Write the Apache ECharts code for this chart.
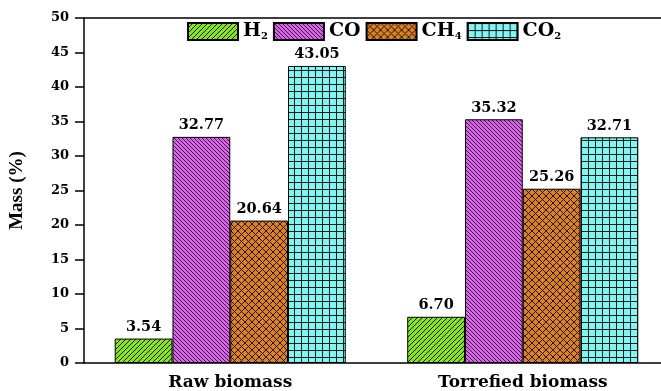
<!DOCTYPE html>
<html>
<head>
<meta charset="utf-8">
<script src="https://cdn.jsdelivr.net/npm/echarts@6/dist/echarts.min.js"></script>
<style>
  html, body { margin: 0; padding: 0; background: #fff; overflow: hidden; }
  #chart { width: 669px; height: 391px; }
</style>
</head>
<body>
<div id="chart"></div>
<script>
// Gas composition of the product stream, mass %
const categories = ['Raw biomass', 'Torrefied biomass'];
const h2Values  = [3.54, 6.70];
const coValues  = [32.77, 35.32];
const ch4Values = [20.64, 25.26];
const co2Values = [43.05, 32.71];
const yTicks = [0, 5, 10, 15, 20, 25, 30, 35, 40, 45, 50];

const WIDE = '"DejaVu Serif", "Liberation Serif", serif';
const SERIF = '"Liberation Serif", "Times New Roman", serif';

// Hatch fills drawn on small tiles
function tile(w, h, bg, lw, draw) {
  const c = document.createElement('canvas');
  c.width = w; c.height = h;
  const g = c.getContext('2d');
  g.fillStyle = bg;
  g.fillRect(0, 0, w, h);
  g.strokeStyle = '#1a1a1a';
  g.lineWidth = lw;
  draw(g, w, h);
  return { image: c, repeat: 'repeat' };
}
function fwd(g, s) { // "/" lines
  g.beginPath();
  g.moveTo(0, s); g.lineTo(s, 0);
  g.moveTo(-1, 1); g.lineTo(1, -1);
  g.moveTo(s - 1, s + 1); g.lineTo(s + 1, s - 1);
  g.stroke();
}
function back(g, s) { // "\" lines
  g.beginPath();
  g.moveTo(0, 0); g.lineTo(s, s);
  g.moveTo(s - 1, -1); g.lineTo(s + 1, 1);
  g.moveTo(-1, s - 1); g.lineTo(1, s + 1);
  g.stroke();
}
const fillH2  = tile(5, 5, '#86e41f', 1, (g, w) => fwd(g, w));
const fillCO  = tile(4, 4, '#de62ee', 0.9, (g, w) => back(g, w));
const fillCH4 = tile(7, 7, '#df7f1f', 1, (g, w) => { fwd(g, w); back(g, w); });
const fillCO2 = tile(7, 7, '#7ff6f2', 1, (g, w, h) => {
  g.beginPath();
  g.moveTo(0.5, 0); g.lineTo(0.5, h);
  g.moveTo(0, 0.5); g.lineTo(w, 0.5);
  g.stroke();
});

const chart = echarts.init(document.getElementById('chart'));

const valueLabel = {
  show: true,
  position: 'top',
  distance: 4,
  color: '#000',
  fontFamily: WIDE,
  fontWeight: 'bold',
  fontSize: 14.5,
  formatter: p => p.value.toFixed(2)
};

function makeSeries(name, data, fill) {
  return {
    name: name,
    type: 'bar',
    data: data,
    barGap: '0%',
    barCategoryGap: '21%',
    itemStyle: { color: fill, borderColor: '#000', borderWidth: 1 },
    label: valueLabel,
    emphasis: { disabled: true },
    animation: false
  };
}

const legendNames = {
  'H2': 'H{s|2}',
  'CO': 'CO',
  'CH4': 'CH{s|4}',
  'CO2': 'CO{s|2}'
};

chart.setOption({
  animation: false,
  // the frame runs a little past the right edge of the window
  grid: { left: 83, right: 0, top: 18, bottom: 28, containLabel: false },
  legend: {
    left: 187,
    top: 22,
    padding: 0,
    icon: 'rect',
    itemWidth: 50,
    itemHeight: 17,
    itemGap: 5,
    selectedMode: false,
    data: ['H2', 'CO', 'CH4', 'CO2'],
    formatter: n => legendNames[n],
    textStyle: {
      color: '#000',
      fontFamily: WIDE,
      fontWeight: 'bold',
      fontSize: 19,
      rich: {
        s: {
          fontFamily: WIDE,
          fontWeight: 'bold',
          fontSize: 10,
          verticalAlign: 'bottom',
          padding: [10, 0, 0, 0]
        }
      }
    }
  },
  xAxis: [
    {
      type: 'category',
      data: categories,
      axisLine: { lineStyle: { color: '#000', width: 1.5 } },
      axisTick: { alignWithLabel: true, length: 7, lineStyle: { color: '#000', width: 1.5 } },
      axisLabel: {
        color: '#000',
        fontFamily: WIDE,
        fontWeight: 'bold',
        fontSize: 17,
        margin: 11
      }
    },
    {
      type: 'category',
      position: 'top',
      data: categories,
      axisLine: { lineStyle: { color: '#000', width: 1.5 } },
      axisTick: { show: false },
      axisLabel: { show: false }
    }
  ],
  yAxis: {
    type: 'value',
    min: 0,
    max: 50,
    interval: 5,
    name: 'Mass (%)',
    nameLocation: 'middle',
    nameGap: 57,
    nameTextStyle: {
      color: '#000',
      fontFamily: SERIF,
      fontWeight: 'bold',
      fontSize: 19
    },
    axisLine: { show: true, lineStyle: { color: '#000', width: 1.5 } },
    axisTick: { show: true, length: 9, lineStyle: { color: '#000', width: 1.5 } },
    splitLine: { show: false },
    axisLabel: {
      color: '#000',
      fontFamily: WIDE,
      fontWeight: 'bold',
      fontSize: 13,
      margin: 15,
      formatter: v => (yTicks.indexOf(v) >= 0 ? String(v) : '')
    }
  },
  series: [
    makeSeries('H2', h2Values, fillH2),
    makeSeries('CO', coValues, fillCO),
    makeSeries('CH4', ch4Values, fillCH4),
    makeSeries('CO2', co2Values, fillCO2)
  ]
});
</script>
</body>
</html>
